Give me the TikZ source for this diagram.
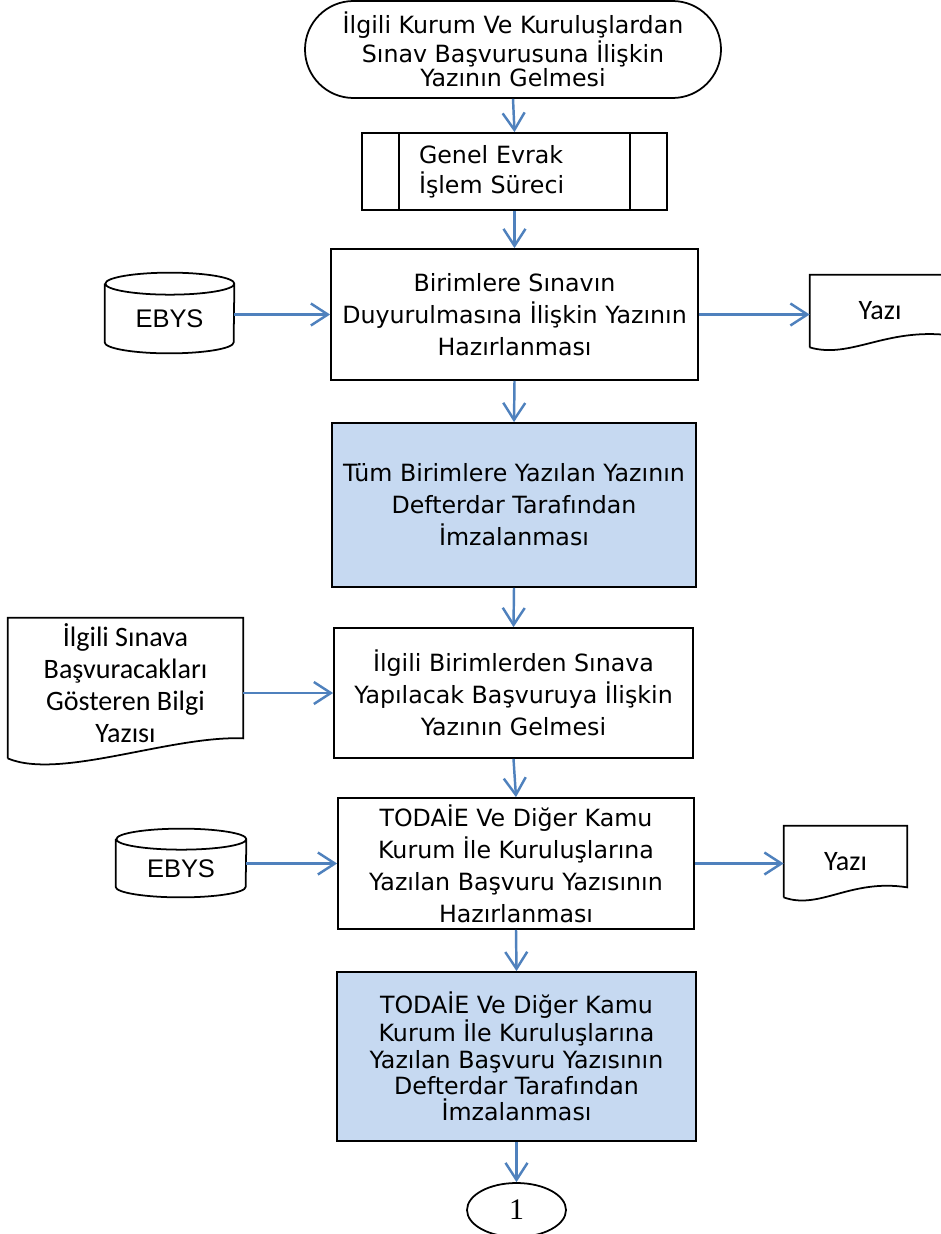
\documentclass[tikz,border=0pt]{standalone}
\usepackage{fontspec}
\setmainfont{DejaVu Sans}
\newfontfamily\ebysfont{Liberation Sans}
\newfontfamily\docfont{Carlito}
\newfontfamily\numfont{Liberation Serif}
\usetikzlibrary{shapes,arrows.meta}
\definecolor{signblue}{RGB}{198,217,241}
\definecolor{flowblue}{RGB}{79,129,189}

\begin{document}
\begin{tikzpicture}[x=0.2mm, y=-0.2mm,
    box/.style={draw, line width=1pt, align=center, inner sep=1pt, font=\fontsize{13.5}{18.2}\selectfont},
    sign/.style={box, fill=signblue},
    store/.style={inner sep=0pt, font=\ebysfont\fontsize{14.5}{17}\selectfont},
    paper/.style={inner sep=1pt, align=center, font=\docfont\fontsize{16}{18.3}\selectfont},
    flow/.style={draw=flowblue, line width=1.4pt, -{Straight Barb[length=3.4mm,width=4.4mm]}}]
\useasboundingbox (0,0) rectangle (941,1234);

\node[box, rounded corners=9.7mm, minimum width=83.2mm, minimum height=19.4mm, font=\fontsize{13.5}{13.7}\selectfont] (gelis) at (513,49.5) {İlgili Kurum Ve Kuruluşlardan\\Sınav Başvurusuna İlişkin\\Yazının Gelmesi};
\node[box, align=left, text width=38.2mm, inner xsep=11.4mm, minimum height=15.4mm, font=\fontsize{13.5}{17}\selectfont] (evrak) at (514.5,171.5) {Genel Evrak\\İşlem Süreci};
\draw[line width=1pt] ([xshift=7.6mm]evrak.north west) -- ([xshift=7.6mm]evrak.south west)
    ([xshift=-7.6mm]evrak.north east) -- ([xshift=-7.6mm]evrak.south east);
\node[box, minimum width=73.4mm, minimum height=26.2mm] (hazir) at (514.5,314.5) {Birimlere Sınavın\\Duyurulmasına İlişkin Yazının\\Hazırlanması};
\node[sign, minimum width=72.8mm, minimum height=32.8mm] (imza) at (514,505) {Tüm Birimlere Yazılan Yazının\\Defterdar Tarafından\\İmzalanması};
\node[box, minimum width=71.8mm, minimum height=26mm] (basvuru) at (513.5,693) {İlgili Birimlerden Sınava\\Yapılacak Başvuruya İlişkin\\Yazının Gelmesi};
\node[box, minimum width=71.2mm, minimum height=26.2mm] (todaie) at (516,863.5) {TODAİE Ve Diğer Kamu\\Kurum İle Kuruluşlarına\\Yazılan Başvuru Yazısının\\Hazırlanması};
\node[sign, minimum width=71.8mm, minimum height=33.8mm, font=\fontsize{13.5}{15}\selectfont] (todaieimza) at (516.5,1056.5) {TODAİE Ve Diğer Kamu\\Kurum İle Kuruluşlarına\\Yazılan Başvuru Yazısının\\Defterdar Tarafından\\İmzalanması};
\node[draw, ellipse, line width=1pt, minimum width=19.8mm, minimum height=10.8mm, inner sep=0pt, font=\numfont\fontsize{17}{17}\selectfont] (baglanti) at (516.5,1210) {1};

% veri tabanlari
\node[store, minimum width=25.8mm, minimum height=13.8mm] (ebysA) at (169.5,318.5) {EBYS};
\draw[line width=1pt] (ebysA.north west) -- ([yshift=2.2mm]ebysA.south west)
    arc[start angle=180, end angle=360, x radius=12.9mm, y radius=2.2mm] -- (ebysA.north east)
    arc[start angle=0, end angle=360, x radius=12.9mm, y radius=2.2mm];
\node[store, minimum width=26mm, minimum height=11.5mm] (ebysB) at (181,868.25) {EBYS};
\draw[line width=1pt] (ebysB.north west) -- ([yshift=2.1mm]ebysB.south west)
    arc[start angle=180, end angle=360, x radius=13mm, y radius=2.1mm] -- (ebysB.north east)
    arc[start angle=0, end angle=360, x radius=13mm, y radius=2.1mm];

% belgeler
\node[paper, minimum width=28mm, minimum height=14mm] (yaziA) at (880,311) {Yazı};
\draw[line width=1pt] ([yshift=-0.2mm]yaziA.south west) -- ([yshift=0.2mm]yaziA.north west) -- ([yshift=0.2mm]yaziA.north east) -- ([yshift=2.2mm]yaziA.south east)
    .. controls ([xshift=-13mm,yshift=3.8mm]yaziA.south east) and ([xshift=8.2mm,yshift=-2.6mm]yaziA.south west) .. ([yshift=-0.2mm]yaziA.south west);
\node[paper, minimum width=24.6mm, minimum height=14.2mm] (yaziB) at (845.5,861.5) {Yazı};
\draw[line width=1pt] (yaziB.south west) -- (yaziB.north west) -- (yaziB.north east) -- ([yshift=2mm]yaziB.south east)
    .. controls ([xshift=-11.4mm,yshift=3.8mm]yaziB.south east) and ([xshift=7.2mm,yshift=-2.6mm]yaziB.south west) .. (yaziB.south west);
\node[paper, minimum width=47mm, minimum height=26mm] (bilgi) at (125.5,683) {İlgili Sınava\\Başvuracakları\\Gösteren Bilgi\\Yazısı};
\draw[line width=1pt] ([yshift=-2mm]bilgi.south west) -- (bilgi.north west) -- (bilgi.north east) -- ([yshift=2mm]bilgi.south east)
    .. controls ([xshift=-14.6mm,yshift=2.6mm]bilgi.south east) and ([xshift=10.4mm,yshift=-6.4mm]bilgi.south west) .. ([yshift=-2mm]bilgi.south west);

\draw[flow] (gelis.south) -- (evrak.north);
\draw[flow] (evrak.south) -- (hazir.north);
\draw[flow] (hazir.south) -- (imza.north);
\draw[flow] (imza.south) -- (basvuru.north);
\draw[flow] (basvuru.south) -- (todaie.north);
\draw[flow] (todaie.south) -- (todaieimza.north);
\draw[flow] (todaieimza.south) -- (baglanti.north);
\draw[flow] (ebysA.east |- hazir.west) -- (hazir.west);
\draw[flow] (hazir.east) -- (yaziA.west |- hazir.east);
\draw[flow] (bilgi.east |- basvuru.west) -- (basvuru.west);
\draw[flow] (ebysB.east |- todaie.west) -- (todaie.west);
\draw[flow] (todaie.east) -- (yaziB.west |- todaie.east);
\end{tikzpicture}
\end{document}
